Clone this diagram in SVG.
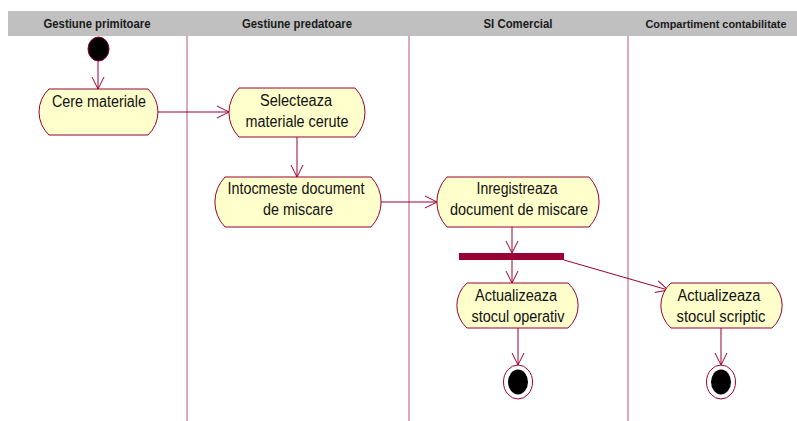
<svg xmlns="http://www.w3.org/2000/svg" width="797" height="421" viewBox="0 0 797 421">
<style>
.hdr{font-family:"Liberation Sans",Arial,sans-serif;font-weight:bold;font-size:12px;fill:#1a1a1a;text-anchor:middle}
.lbl{font-family:"Liberation Sans",Arial,sans-serif;font-size:16px;fill:#111;text-anchor:middle}
.node{fill:#FFFFCC;stroke:#990033;stroke-width:1}
.lane{stroke:#B8557F;stroke-width:1;fill:none}
.conn{stroke:#990033;stroke-width:1;fill:none;marker-end:url(#arr)}
</style>
<defs>
<marker id="arr" viewBox="-13 -7 14 14" refX="0" refY="0" markerWidth="14" markerHeight="14" markerUnits="userSpaceOnUse" orient="auto">
<path d="M-12,-6 L0,0 L-12,6" fill="none" stroke="#990033" stroke-width="1"/>
</marker>
</defs>
<rect x="0" y="0" width="797" height="421" fill="#fff"/>
<g id="header">
<rect x="8" y="11" width="789" height="25" fill="#C0C0C0"/>
<text class="hdr" x="97" y="28" textLength="107" lengthAdjust="spacingAndGlyphs">Gestiune primitoare</text>
<text class="hdr" x="297" y="28" textLength="110" lengthAdjust="spacingAndGlyphs">Gestiune predatoare</text>
<text class="hdr" x="518" y="28" textLength="69" lengthAdjust="spacingAndGlyphs">SI Comercial</text>
<text class="hdr" x="716" y="28" style="font-size:11px" textLength="141" lengthAdjust="spacingAndGlyphs">Compartiment contabilitate</text>
</g>
<g id="lanes">
<line class="lane" x1="187" y1="36" x2="187" y2="421"/>
<line class="lane" x1="409" y1="36" x2="409" y2="421"/>
<line class="lane" x1="628" y1="36" x2="628" y2="421"/>
</g>
<g id="connectors">
<line class="conn" x1="98" y1="61" x2="98" y2="89"/>
<line class="conn" x1="158" y1="112" x2="229" y2="112"/>
<line class="conn" x1="297" y1="137" x2="297" y2="177"/>
<line class="conn" x1="381" y1="202" x2="437" y2="202"/>
<line class="conn" x1="512" y1="227" x2="512" y2="253"/>
<line class="conn" x1="512" y1="260" x2="512" y2="283"/>
<line class="conn" x1="564" y1="260" x2="668" y2="290"/>
<line class="conn" x1="518" y1="328" x2="518" y2="365"/>
<line class="conn" x1="721" y1="328" x2="721" y2="365"/>
</g>
<g id="start">
<ellipse cx="98.5" cy="49" rx="10.5" ry="12" fill="#000" stroke="#990033"/>
</g>
<g id="cere">
<path class="node" d="M49,89 H148 A31.5,31.5 0 0 1 148,135 H49 A31.5,31.5 0 0 1 49,89 Z"/>
<text class="lbl" x="99" y="107" textLength="94" lengthAdjust="spacingAndGlyphs">Cere materiale</text>
</g>
<g id="selecteaza">
<path class="node" d="M239,88 H355 A35,35 0 0 1 355,137 H239 A35,35 0 0 1 239,88 Z"/>
<text class="lbl" x="296" y="106" textLength="72" lengthAdjust="spacingAndGlyphs">Selecteaza</text>
<text class="lbl" x="297" y="127" textLength="103" lengthAdjust="spacingAndGlyphs">materiale cerute</text>
</g>
<g id="intocmeste">
<path class="node" d="M225,177 H371 A36,36 0 0 1 371,227 H225 A36,36 0 0 1 225,177 Z"/>
<text class="lbl" x="296" y="194" textLength="137" lengthAdjust="spacingAndGlyphs">Intocmeste document</text>
<text class="lbl" x="298" y="215" textLength="70" lengthAdjust="spacingAndGlyphs">de miscare</text>
</g>
<g id="inregistreaza">
<path class="node" d="M447,177 H589 A36,36 0 0 1 589,227 H447 A36,36 0 0 1 447,177 Z"/>
<text class="lbl" x="517" y="194" textLength="81" lengthAdjust="spacingAndGlyphs">Inregistreaza</text>
<text class="lbl" x="519" y="215" textLength="138" lengthAdjust="spacingAndGlyphs">document de miscare</text>
</g>
<g id="fork">
<rect x="459" y="253" width="105" height="7" fill="#990033"/>
</g>
<g id="operativ">
<path class="node" d="M467,283 H568 A30,30 0 0 1 568,328 H467 A30,30 0 0 1 467,283 Z"/>
<text class="lbl" x="516" y="301" textLength="82" lengthAdjust="spacingAndGlyphs">Actualizeaza</text>
<text class="lbl" x="518" y="322" textLength="93" lengthAdjust="spacingAndGlyphs">stocul operativ</text>
</g>
<g id="scriptic">
<path class="node" d="M671,283 H772 A30,30 0 0 1 772,328 H671 A30,30 0 0 1 671,283 Z"/>
<text class="lbl" x="719" y="301" textLength="83" lengthAdjust="spacingAndGlyphs">Actualizeaza</text>
<text class="lbl" x="721" y="322" textLength="89" lengthAdjust="spacingAndGlyphs">stocul scriptic</text>
</g>
<g id="end1">
<ellipse cx="518" cy="382" rx="14.5" ry="17" fill="#fff" stroke="#990033"/>
<ellipse cx="518" cy="382" rx="10" ry="12.5" fill="#000"/>
</g>
<g id="end2">
<ellipse cx="721" cy="382" rx="14.5" ry="17" fill="#fff" stroke="#990033"/>
<ellipse cx="721" cy="382" rx="10" ry="12.5" fill="#000"/>
</g>
</svg>
